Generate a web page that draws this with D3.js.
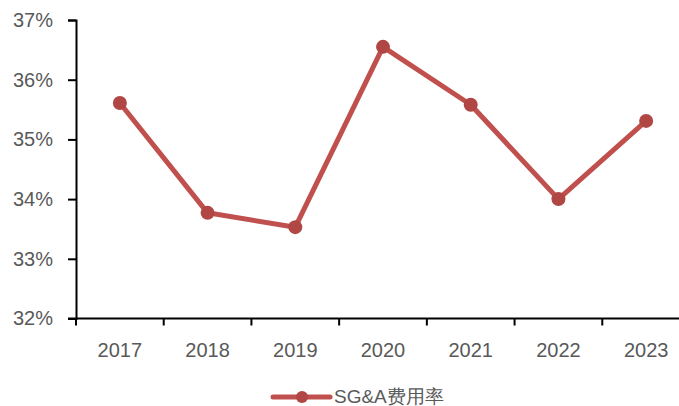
<!DOCTYPE html>
<html>
<head>
<meta charset="utf-8">
<script src="https://cdn.jsdelivr.net/npm/d3@7"></script>
<style>
  body { margin: 0; background: #fff; }
  svg { display: block; }
  text { font-family: "Liberation Sans", Arial, sans-serif; }
</style>
</head>
<body>
<svg width="679" height="406"></svg>
<script>
var years = ["2017", "2018", "2019", "2020", "2021", "2022", "2023"];
var sgaRate = [35.61, 33.77, 33.53, 36.55, 35.58, 34.00, 35.31];
var yTicks = [32, 33, 34, 35, 36, 37];
var seriesName = "SG&A费用率";

var svg = d3.select("svg"),
    plotLeft = 76, plotRight = 690, plotTop = 20, plotBottom = 318.5;

var x = d3.scaleBand().domain(years).range([plotLeft, plotRight]);
var y = d3.scaleLinear().domain([32, 37]).range([plotBottom, plotTop]);

var lineColor = "#c0504d", dotColor = "#b04744", textColor = "#595959";

// y axis
var yAxis = svg.append("g")
    .attr("transform", "translate(" + plotLeft + ",0)")
    .call(d3.axisLeft(y).tickValues(yTicks).tickSize(8).tickPadding(15)
        .tickFormat(function (d) { return d + "%"; }));
yAxis.select(".domain").attr("stroke", "#000").attr("stroke-width", 2);
yAxis.selectAll(".tick line").attr("stroke", "#000").attr("stroke-width", 2);
yAxis.selectAll("text").attr("fill", textColor).style("font-size", "20px");

// x axis
var xAxis = svg.append("g")
    .attr("transform", "translate(0," + plotBottom + ")")
    .call(d3.axisBottom(x).tickSize(0).tickPadding(24));
xAxis.select(".domain").remove();
xAxis.selectAll("text").attr("fill", textColor).style("font-size", "20px");
xAxis.append("line")
    .attr("x1", plotLeft - 8).attr("x2", 679)
    .attr("stroke", "#000").attr("stroke-width", 2);
xAxis.selectAll(".bt")
    .data(years)
    .enter().append("line")
    .attr("class", "bt")
    .attr("x1", function (d) { return x(d); })
    .attr("x2", function (d) { return x(d); })
    .attr("y1", 0).attr("y2", 7)
    .attr("stroke", "#000").attr("stroke-width", 2);

// series
var pts = years.map(function (d, i) { return [x(d) + x.bandwidth() / 2, y(sgaRate[i])]; });
svg.append("path")
    .attr("d", d3.line()(pts))
    .attr("fill", "none")
    .attr("stroke", lineColor)
    .attr("stroke-width", 5)
    .attr("stroke-linejoin", "round");
svg.selectAll(".dot")
    .data(pts)
    .enter().append("circle")
    .attr("class", "dot")
    .attr("cx", function (d) { return d[0]; })
    .attr("cy", function (d) { return d[1]; })
    .attr("r", 7)
    .attr("fill", dotColor);

// legend
var lg = svg.append("g").attr("transform", "translate(273,397)");
lg.append("line").attr("x1", 0).attr("x2", 57)
    .attr("stroke", lineColor).attr("stroke-width", 5).attr("stroke-linecap", "round");
lg.append("circle").attr("cx", 29).attr("r", 6).attr("fill", dotColor);
lg.append("text").attr("x", 61).attr("dy", "0.33em")
    .attr("fill", textColor).style("font-size", "19px")
    .text(seriesName);
</script>
</body>
</html>
